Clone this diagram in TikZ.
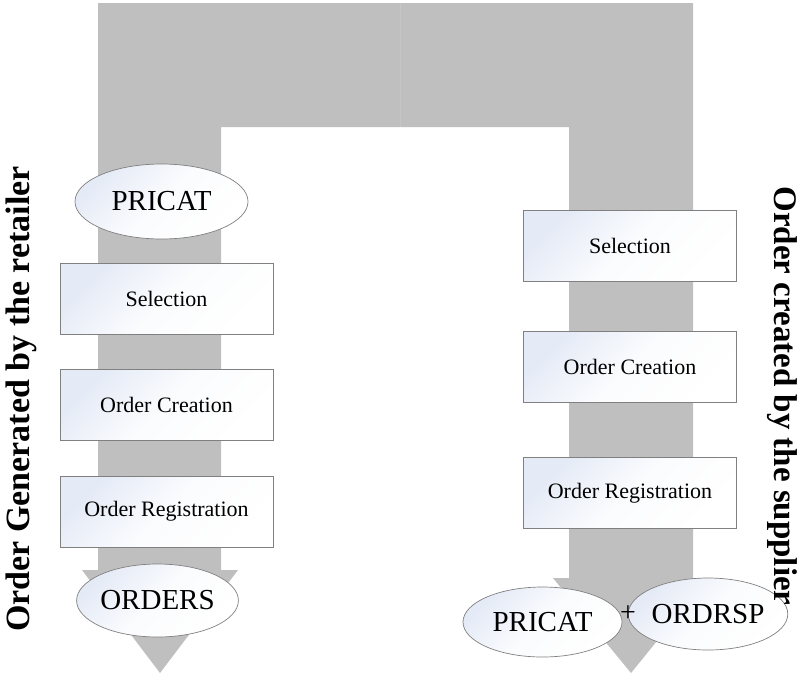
\documentclass[tikz,border=0pt]{standalone}
\usepackage{fontspec}
\setmainfont{Liberation Serif}
\usetikzlibrary{shapes.geometric}

\definecolor{flow}{HTML}{BFBFBF}
\definecolor{seam}{HTML}{C5C6C9}
\definecolor{edge}{HTML}{808080}
\definecolor{tint}{HTML}{E4EAF6}

\tikzset{
  shaded/.style={draw=edge, line width=0.7pt, top color=tint, bottom color=white,
    middle color=white!85!tint, shading angle=45},
  stepbox/.style={shaded, rectangle, minimum width=213pt, minimum height=71pt, inner sep=0pt,
    font=\fontsize{22}{26}\selectfont},
  docnode/.style={shaded, ellipse, inner sep=0pt, font=\fontsize{29}{33}\selectfont},
  sidelabel/.style={font=\fontsize{34}{40}\selectfont\bfseries, inner sep=0pt}
}

\begin{document}
\begin{tikzpicture}[x=1pt, y=-1pt]
\useasboundingbox (0,0) rectangle (799,675);

% the bent flow band: down the left leg and the right leg
\fill[flow] (98,3) -- (693,3) -- (693,578) -- (708,578) -- (631,673) -- (553,578)
  -- (569,578) -- (569,127) -- (221,127) -- (221,570) -- (238,570) -- (160,673)
  -- (82,570) -- (98,570) -- cycle;
\draw[seam, line width=0.5pt] (400,3) -- (400,127);

% retailer side
\node[docnode, minimum width=173pt, minimum height=75pt] (pricatL) at (161.5,201.5) {PRICAT};
\node[stepbox] (selL) at (166.5,299) {Selection};
\node[stepbox] (creL) at (166.5,404.5) {Order Creation};
\node[stepbox] (regL) at (166.5,511.5) {Order Registration};
\node[docnode, minimum width=155pt, minimum height=73pt] (orders) at (157.5,600.5) {ORDERS};

% supplier side
\node[stepbox] (selR) at (630,245.5) {Selection};
\node[stepbox] (creR) at (630,367) {Order Creation};
\node[stepbox] (regR) at (630,493) {Order Registration};
\node[docnode, minimum width=159pt, minimum height=70pt] (pricatR) at (542.5,622) {PRICAT};
\node[docnode, minimum width=150pt, minimum height=72pt] (ordrsp) at (708,614) {ORDRSP};
\node[font=\fontsize{28}{30}\selectfont, inner sep=0pt] (plus) at (628,614) {+};

% side captions
\node[sidelabel, rotate=90] (capL) at (21.5,399) {Order Generated by the retailer};
\node[sidelabel, font=\fontsize{33}{38}\selectfont\bfseries, rotate=-90] (capR) at (782,396) {Order created by the supplier};
\end{tikzpicture}
\end{document}
